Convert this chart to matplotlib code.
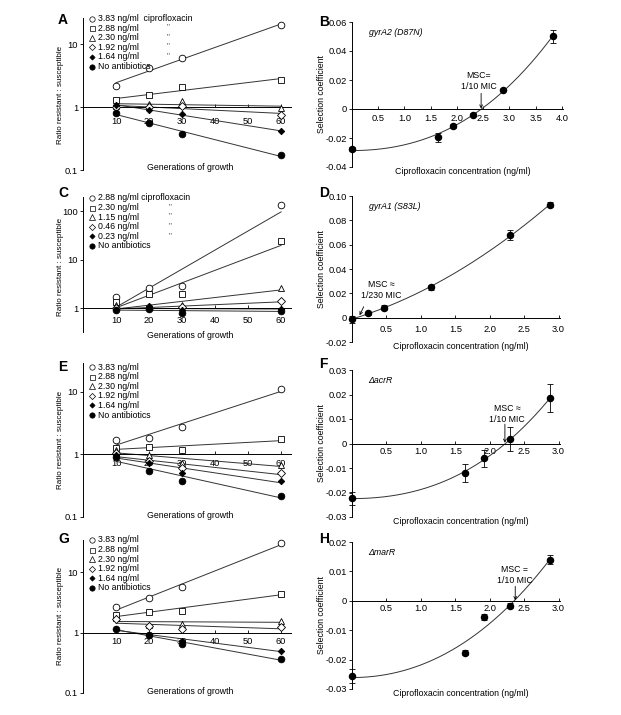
import numpy as np
import matplotlib
matplotlib.use("Agg")
import matplotlib.pyplot as plt

plt.rcParams['font.family'] = ['Liberation Sans', 'DejaVu Sans']
FS = 6.3
plt.rcParams['font.size'] = FS

## data

gens = [10, 20, 30, 60]

a_labels = ["3.83 ng/ml  ciprofloxacin", "2.88 ng/ml", "2.30 ng/ml", "1.92 ng/ml", "1.64 ng/ml", "No antibiotics"]
a_ratio = [[2.15, 4.2, 6.1, 20.0],
           [1.28, 1.55, 2.1, 2.7],
           [1.05, 1.1, 1.25, 0.98],
           [1.0, 1.0, 1.05, 0.76],
           [1.06, 0.9, 0.78, 0.41],
           [0.81, 0.55, 0.38, 0.17]]

c_labels = ["2.88 ng/ml ciprofloxacin", "2.30 ng/ml", "1.15 ng/ml", "0.46 ng/ml", "0.23 ng/ml", "No antibiotics"]
c_ratio = [[1.68, 2.6, 2.8, 133.0],
           [1.33, 1.94, 1.94, 24.0],
           [1.15, 1.05, 1.13, 2.6],
           [1.0, 1.0, 1.05, 1.37],
           [0.92, 1.1, 0.92, 0.95],
           [0.9, 0.97, 0.8, 0.87]]

e_labels = ["3.83 ng/ml", "2.88 ng/ml", "2.30 ng/ml", "1.92 ng/ml", "1.64 ng/ml", "No antibiotics"]
e_ratio = [[1.7, 1.85, 2.7, 11.1],
           [1.29, 1.33, 1.17, 1.76],
           [1.17, 0.98, 0.72, 0.69],
           [1.04, 0.79, 0.6, 0.51],
           [0.98, 0.74, 0.5, 0.38],
           [0.92, 0.55, 0.38, 0.22]]

g_labels = e_labels
g_ratio = [[2.6, 3.7, 5.7, 30.0],
           [1.94, 2.2, 2.3, 4.4],
           [1.77, 1.32, 1.41, 1.56],
           [1.66, 1.26, 1.14, 1.24],
           [1.16, 0.91, 0.73, 0.50],
           [1.16, 0.90, 0.64, 0.36]]

b_conc = [0, 1.64, 1.92, 2.30, 2.88, 3.83]
b_coef = [-0.0278, -0.0195, -0.0115, -0.004, 0.0131, 0.0503]
b_err = [0.0015, 0.003, 0.0015, 0.001, 0.001, 0.0045]

d_conc = [0, 0.23, 0.46, 1.15, 2.30, 2.88]
d_coef = [-0.0014, 0.0035, 0.0082, 0.025, 0.068, 0.093]
d_err = [0.003, 0.001, 0.002, 0.002, 0.004, 0.002]

f_conc = [0, 1.64, 1.92, 2.30, 2.88]
f_coef = [-0.0224, -0.0119, -0.0061, 0.0018, 0.0186]
f_err = [0.0025, 0.0037, 0.0035, 0.0048, 0.0058]

h_conc = [0, 1.64, 1.92, 2.30, 2.88]
h_coef = [-0.0256, -0.0176, -0.0056, -0.0016, 0.014]
h_err = [0.0025, 0.001, 0.001, 0.001, 0.0015]

markers = ['o', 's', '^', 'D', 'D', 'o']
faces = ['white', 'white', 'white', 'white', 'black', 'black']
msizes = [4.8, 4.5, 5.0, 3.9, 3.3, 4.8]

W, H = 621, 715
fig = plt.figure(figsize=(6.21, 7.15), dpi=100)


def box(x0, y0, x1, y1):
    return [x0 / W, 1 - y1 / H, (x1 - x0) / W, (y1 - y0) / H]


def fx(x):
    return x / W


def fy(y):
    return 1 - y / H


def growth_panel(px, labels, ratios, ylim, yticks, letter, letter_y, leg_y, ditto_x, pad, xlab_dy, ylab_y):
    ax = fig.add_axes(box(*px))
    ax.set_yscale('log')
    ax.minorticks_off()
    for i in range(len(ratios)):
        r = np.array(ratios[i])
        ax.plot(gens, r, linestyle='none', marker=markers[i], mfc=faces[i], mec='black',
                ms=msizes[i], mew=0.6, zorder=3, clip_on=False)
        fit = np.polyfit(gens, np.log10(r), 1)
        xx = np.array([10, 60])
        ax.plot(xx, 10 ** np.polyval(fit, xx), color='#333333', lw=0.7, zorder=2)
    ax.set_xlim(0, 63)
    ax.set_ylim(*ylim)
    ax.spines['top'].set_visible(False)
    ax.spines['right'].set_visible(False)
    ax.spines['bottom'].set_position(('data', 1))
    ax.spines['left'].set_linewidth(0.7)
    ax.spines['bottom'].set_linewidth(0.7)
    ax.set_xticks([10, 20, 30, 40, 50, 60])
    ax.set_xticklabels(['10', '20', '30', '40', '50', '60'])
    ax.set_yticks(yticks)
    ax.set_yticklabels([('%g' % t) for t in yticks])
    ax.tick_params(axis='x', direction='in', length=2, width=0.6, pad=pad, labelsize=FS + 0.4)
    ax.tick_params(axis='y', direction='out', length=2, width=0.6, pad=1.5, labelsize=FS + 0.4)
    ax.set_facecolor('none')
    # x label sits inside the frame near the bottom
    fig.text(fx((px[0] + px[2]) / 2 + 3), fy(px[3] + xlab_dy), "Generations of growth",
             ha='center', va='center', fontsize=FS)
    fig.text(fx(61), fy(ylab_y), "Ratio resistant : susceptible",
             rotation=90, ha='center', va='center', fontsize=5.8)
    fig.text(fx(58), fy(letter_y), letter, fontsize=10, fontweight='bold', ha='left', va='center')
    # hand made legend
    for i in range(len(labels)):
        yy = leg_y + 9.6 * i
        ax.plot([fx(92)], [fy(yy)], transform=fig.transFigure, linestyle='none',
                marker=markers[i], mfc=faces[i], mec='black', ms=msizes[i] * 0.8, mew=0.5,
                clip_on=False)
        fig.text(fx(97.5), fy(yy), labels[i], ha='left', va='center', fontsize=FS)
        if ditto_x and 1 <= i <= 4:
            fig.text(fx(ditto_x), fy(yy - 1), '"', ha='center', va='center', fontsize=6,
                     color='#444444')
    return ax


def sel_panel(px, conc, coef, err, xlim, xticks, ylim, yticks, letter, letter_y, name, flat,
              msc, msc_xy, arr_from, arr_to, pad):
    ax = fig.add_axes(box(*px))
    ax.errorbar(conc, coef, yerr=err, fmt='o', color='black', ms=4.4, capsize=2,
                elinewidth=0.6, capthick=0.6, zorder=3, clip_on=False)
    c = np.array(conc)
    s = np.array(coef)
    xx = np.linspace(0, c.max(), 200)
    if flat:
        basis = np.column_stack([np.ones_like(c), c ** 2, c ** 3])
        k = np.linalg.lstsq(basis, s, rcond=None)[0]
        yy = k[0] + k[1] * xx ** 2 + k[2] * xx ** 3
    else:
        yy = np.polyval(np.polyfit(c, s, 2), xx)
    ax.plot(xx, yy, color='#333333', lw=0.7, zorder=2)
    ax.set_xlim(*xlim)
    ax.set_ylim(*ylim)
    ax.spines['top'].set_visible(False)
    ax.spines['right'].set_visible(False)
    ax.spines['bottom'].set_position(('data', 0))
    ax.spines['left'].set_linewidth(0.7)
    ax.spines['bottom'].set_linewidth(0.7)
    ax.set_xticks(xticks)
    ax.set_xticklabels(['%.1f' % t for t in xticks])
    ax.set_yticks(yticks)
    ax.set_yticklabels(['0' if t == 0 else '%.2f' % t for t in yticks])
    ax.tick_params(axis='x', direction='in', length=2, width=0.6, pad=pad, labelsize=FS + 0.4)
    ax.tick_params(axis='y', direction='out', length=2, width=0.6, pad=1.5, labelsize=FS + 0.4)
    ax.set_facecolor('none')
    ax.text(0.08, 0.93, name, transform=ax.transAxes, style='italic', fontsize=FS,
            ha='left', va='center')
    ax.text(msc_xy[0], msc_xy[1], msc, ha='center', va='center', fontsize=FS, linespacing=1.3)
    ax.annotate('', xy=arr_to, xytext=arr_from,
                arrowprops=dict(arrowstyle='->', lw=0.6, color='black',
                                shrinkA=0, shrinkB=0, mutation_scale=5))
    fig.text(fx((px[0] + px[2]) / 2 + 5), fy(px[3] + 5), "Ciprofloxacin concentration (ng/ml)",
             ha='center', va='center', fontsize=FS)
    fig.text(fx(322), fy((px[1] + px[3]) / 2), "Selection coefficient",
             rotation=90, ha='center', va='center', fontsize=FS)
    fig.text(fx(319), fy(letter_y), letter, fontsize=10, fontweight='bold', ha='left', va='center')
    return ax


## left column
growth_panel((83, 18, 291, 170), a_labels, a_ratio, (0.1, 26), [0.1, 1, 10], "A", 20, 18.5, 168, 7, -3, 95)
growth_panel((83, 197, 291, 332), c_labels, c_ratio, (0.32, 195), [1, 10, 100], "C", 193, 198, 170, 6, 4, 267)
growth_panel((83, 363, 291, 517), e_labels, e_ratio, (0.1, 29), [0.1, 1, 10], "E", 367, 367, None, 3.5, -1, 440)
growth_panel((83, 540, 291, 693), g_labels, g_ratio, (0.1, 34), [0.1, 1, 10], "G", 539, 540, None, 3.5, -2, 616)

## right column
sel_panel((352, 22, 563, 167), b_conc, b_coef, b_err, (0, 4.02),
          [0.5, 1.0, 1.5, 2.0, 2.5, 3.0, 3.5, 4.0], (-0.04, 0.06),
          [-0.04, -0.02, 0, 0.02, 0.04, 0.06], "B", 22, "gyrA2 (D87N)", True,
          "MSC=\n1/10 MIC", (2.42, 0.0193), (2.46, 0.0108), (2.46, 0.0003), 3.5)
sel_panel((352, 196, 560, 342), d_conc, d_coef, d_err, (0, 3.02),
          [0.5, 1.0, 1.5, 2.0, 2.5, 3.0], (-0.02, 0.10),
          [-0.02, 0, 0.02, 0.04, 0.06, 0.08, 0.10], "D", 193, "gyrA1 (S83L)", False,
          "MSC \u2248\n1/230 MIC", (0.42, 0.023), (0.17, 0.009), (0.11, 0.002), 5)
sel_panel((352, 370, 560, 517), f_conc, f_coef, f_err, (0, 3.02),
          [0.5, 1.0, 1.5, 2.0, 2.5, 3.0], (-0.03, 0.03),
          [-0.03, -0.02, -0.01, 0, 0.01, 0.02, 0.03], "F", 364, "\u0394acrR", True,
          "MSC \u2248\n1/10 MIC", (2.25, 0.012), (2.22, 0.0079), (2.22, 0.0003), 2.5)
sel_panel((352, 542, 560, 689), h_conc, h_coef, h_err, (0, 3.02),
          [0.5, 1.0, 1.5, 2.0, 2.5, 3.0], (-0.03, 0.02),
          [-0.03, -0.02, -0.01, 0, 0.01, 0.02], "H", 539, "\u0394marR", True,
          "MSC =\n1/10 MIC", (2.36, 0.0089), (2.37, 0.0049), (2.37, 0.0002), 2.5)

plt.savefig('out.png', dpi=100)
